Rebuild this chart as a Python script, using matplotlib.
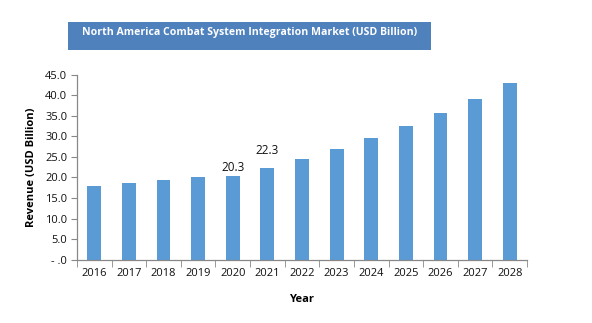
import matplotlib.pyplot as plt
from matplotlib.patches import Rectangle
from matplotlib.ticker import FixedLocator, NullFormatter

years = ['2016', '2017', '2018', '2019', '2020', '2021', '2022',
         '2023', '2024', '2025', '2026', '2027', '2028']
revenue = [17.9, 18.6, 19.4, 20.1, 20.3, 22.3, 24.5,
           26.9, 29.6, 32.5, 35.6, 39.0, 43.0]
labelled = {'2020': 1.5, '2021': 8}   # year -> label offset in points
yticks = [0, 5, 10, 15, 20, 25, 30, 35, 40, 45]
ytick_labels = ['- .0', '5.0', '10.0', '15.0', '20.0', '25.0',
                '30.0', '35.0', '40.0', '45.0']

plt.rcParams['font.family'] = ['Open Sans', 'DejaVu Sans']

fig = plt.figure(figsize=(5.92, 3.23), dpi=100)
ax = fig.add_axes([77 / 592, 1 - 259.7 / 323, 450 / 592, 185 / 323])

x = list(range(len(years)))
ax.bar(x, revenue, width=0.4, color='#5B9BD5', zorder=2)

for i, (yr, v) in enumerate(zip(years, revenue)):
    if yr in labelled:
        ax.annotate(f'{v:.1f}', (i, v), xytext=(0, labelled[yr]),
                    textcoords='offset points', ha='center', va='bottom',
                    fontsize=8.5, color='#111111')

ax.set_xlim(-0.5, len(years) - 0.5)
ax.set_ylim(0, 45)
ax.set_yticks(yticks)
ax.set_yticklabels(ytick_labels)
ax.set_xticks(x)
ax.set_xticklabels(years)
ax.xaxis.set_minor_locator(FixedLocator([i - 0.5 for i in range(len(years) + 1)]))
ax.xaxis.set_minor_formatter(NullFormatter())
ax.tick_params(axis='x', which='major', length=0, pad=6, labelsize=8, colors='#111111')
ax.tick_params(axis='x', which='minor', length=5, color='#888888')
ax.tick_params(axis='y', length=4, color='#888888', labelsize=8, labelcolor='#111111', pad=3)

for side in ['top', 'right']:
    ax.spines[side].set_visible(False)
for side in ['left', 'bottom']:
    ax.spines[side].set_color('#888888')
    ax.spines[side].set_linewidth(0.9)

ax.set_xlabel('Year', fontsize=8, fontweight='bold', labelpad=11)
ax.set_ylabel('Revenue (USD Billion)', fontsize=8, fontweight='bold', labelpad=6)

# title banner
fig.patches.append(Rectangle((68 / 592, 1 - 50 / 323), 363 / 592, 28 / 323,
                             transform=fig.transFigure, facecolor='#4F81BD',
                             edgecolor='none'))
fig.text(250 / 592, 1 - 32 / 323, 'North America Combat System Integration Market (USD Billion)',
         ha='center', va='center', color='white', fontsize=7.6, fontweight='bold')

fig.savefig('out.png', dpi=100)
